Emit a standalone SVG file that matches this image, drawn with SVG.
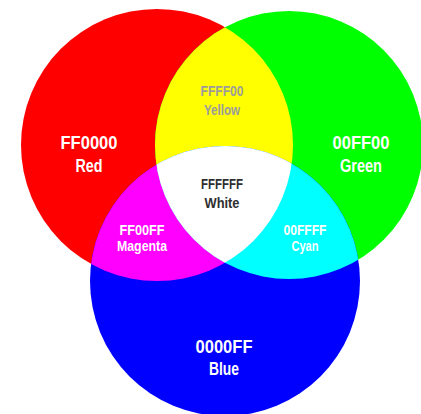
<svg xmlns="http://www.w3.org/2000/svg" width="421" height="414" viewBox="0 0 421 414">
  <style>
    text { font-family: "Liberation Sans", Arial, sans-serif; font-weight: bold; text-anchor: middle; }
    .big { font-size: 18px; fill: #ffffff; }
    .mid { font-size: 15px; }
    .lt { fill: #ffffff; }
    .gray { fill: #9c9c9c; }
    .dark { fill: #2e2e2e; }
  </style>
  <defs>
    <clipPath id="clipRed"><circle cx="157" cy="145" r="136"/></clipPath>
    <clipPath id="clipGreen"><circle cx="289" cy="145" r="134"/></clipPath>
    <clipPath id="clipBlue"><circle cx="225" cy="281" r="135"/></clipPath>
  </defs>
  <rect width="421" height="414" fill="#ffffff"/>
  <g id="red">
    <circle cx="157" cy="145" r="136" fill="#ff0000"/>
  </g>
  <g id="green">
    <circle cx="289" cy="145" r="134" fill="#00ff00"/>
  </g>
  <g id="blue">
    <circle cx="225" cy="281" r="135" fill="#0000ff"/>
  </g>
  <g id="yellow">
    <g clip-path="url(#clipRed)"><circle cx="289" cy="145" r="134" fill="#ffff00"/></g>
  </g>
  <g id="magenta">
    <g clip-path="url(#clipRed)"><circle cx="225" cy="281" r="135" fill="#ff00ff"/></g>
  </g>
  <g id="cyan">
    <g clip-path="url(#clipGreen)"><circle cx="225" cy="281" r="135" fill="#00ffff"/></g>
  </g>
  <g id="white">
    <g clip-path="url(#clipRed)"><g clip-path="url(#clipGreen)"><circle cx="225" cy="281" r="135" fill="#ffffff"/></g></g>
  </g>
  <g id="labels">
    <g id="label-red">
      <text class="big" x="89" y="149" textLength="57" lengthAdjust="spacingAndGlyphs">FF0000</text>
      <text class="big" x="89" y="172" textLength="27" lengthAdjust="spacingAndGlyphs">Red</text>
    </g>
    <g id="label-green">
      <text class="big" x="361" y="149" textLength="57" lengthAdjust="spacingAndGlyphs">00FF00</text>
      <text class="big" x="361" y="172" textLength="42" lengthAdjust="spacingAndGlyphs">Green</text>
    </g>
    <g id="label-blue">
      <text class="big" x="224" y="353" textLength="57" lengthAdjust="spacingAndGlyphs">0000FF</text>
      <text class="big" x="224" y="375" textLength="30" lengthAdjust="spacingAndGlyphs">Blue</text>
    </g>
    <g id="label-yellow">
      <text class="mid gray" x="222" y="96" textLength="43" lengthAdjust="spacingAndGlyphs">FFFF00</text>
      <text class="mid gray" x="222" y="115" textLength="36" lengthAdjust="spacingAndGlyphs">Yellow</text>
    </g>
    <g id="label-white">
      <text class="mid dark" x="222" y="189" textLength="42" lengthAdjust="spacingAndGlyphs">FFFFFF</text>
      <text class="mid dark" x="222" y="208" textLength="35" lengthAdjust="spacingAndGlyphs">White</text>
    </g>
    <g id="label-magenta">
      <text class="mid lt" x="142" y="235" textLength="45" lengthAdjust="spacingAndGlyphs">FF00FF</text>
      <text class="mid lt" x="142" y="251" textLength="50" lengthAdjust="spacingAndGlyphs">Magenta</text>
    </g>
    <g id="label-cyan">
      <text class="mid lt" x="305" y="235" textLength="43" lengthAdjust="spacingAndGlyphs">00FFFF</text>
      <text class="mid lt" x="305" y="251" textLength="27" lengthAdjust="spacingAndGlyphs">Cyan</text>
    </g>
  </g>
</svg>
